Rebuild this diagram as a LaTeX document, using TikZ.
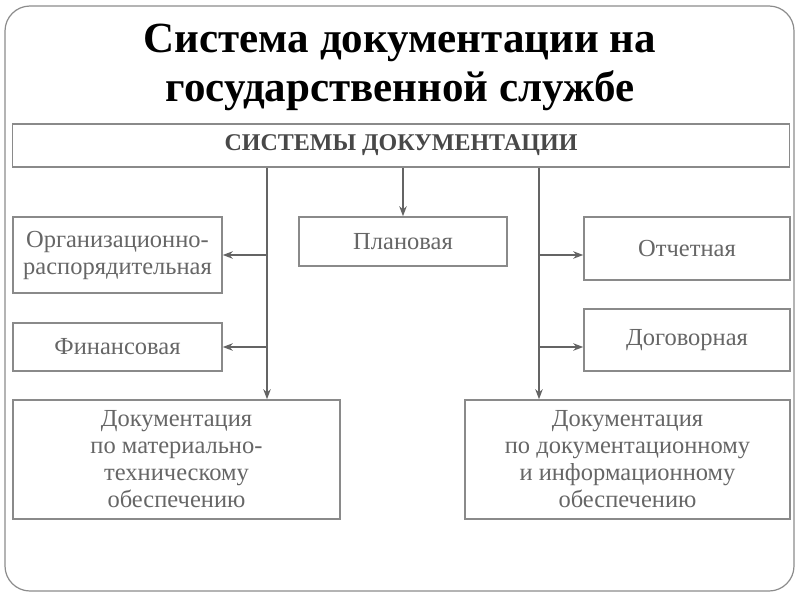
\documentclass[tikz,border=0pt]{standalone}
\usepackage{fontspec}
\setmainfont{Liberation Serif}
\usetikzlibrary{arrows.meta}
\definecolor{boxgray}{HTML}{8A8A8A}
\definecolor{txtgray}{HTML}{666666}
\definecolor{hdrgray}{HTML}{484848}
\definecolor{linegray}{HTML}{646464}
\definecolor{framegray}{HTML}{8C8C8C}
\begin{document}
\begin{tikzpicture}[x=1pt,y=-1pt,
  box/.style={draw=boxgray, line width=1.6pt, inner sep=0pt, text=txtgray,
    font=\fontsize{24.5}{27}\selectfont, align=center},
  conn/.style={draw=linegray, line width=1.4pt, -{Stealth[length=10pt,width=7.5pt]}}]
\fill[white] (0,0) rectangle (800,600);
\useasboundingbox (0,0) rectangle (800,600);
% slide frame
\draw[framegray, line width=1.2pt, rounded corners=25pt] (5,6) rectangle (794,591);
% title
\node[font=\fontsize{43}{49}\selectfont\bfseries, align=center, text=black] (title) at (400,67)
  {Система документации на\\государственной службе};
% boxes
\node[box, minimum width=777pt, minimum height=43pt, text=hdrgray,
  font=\fontsize{24}{27}\selectfont\bfseries] (hdr) at (401,145.5) {СИСТЕМЫ ДОКУМЕНТАЦИИ};
\node[box, minimum width=209pt, minimum height=76pt] (org) at (117.5,255) {Организационно-\\распорядительная};
\node[box, minimum width=208pt, minimum height=49pt] (plan) at (403,241.5) {Плановая};
\node[box, minimum width=206pt, minimum height=63pt] (otch) at (687,248.5) {Отчетная};
\node[box, minimum width=209pt, minimum height=48pt] (fin) at (117.5,347) {Финансовая};
\node[box, minimum width=206pt, minimum height=62pt] (dog) at (687,340) {Договорная};
\node[box, minimum width=327pt, minimum height=119pt] (bl) at (176.5,459.5)
  {Документация\\по материально-\\техническому\\обеспечению};
\node[box, minimum width=325pt, minimum height=119pt] (br) at (627.5,459.5)
  {Документация\\по документационному\\и информационному\\обеспечению};
% trunks
\coordinate (lt) at (267,0);
\coordinate (rt) at (539,0);
\draw[conn] (hdr.south -| lt) -- (bl.north -| lt);
\draw[conn] (lt |- org.east) -- (org.east);
\draw[conn] (lt |- fin.east) -- (fin.east);
\draw[conn] (hdr.south -| plan.north) -- (plan.north);
\draw[conn] (hdr.south -| rt) -- (br.north -| rt);
\draw[conn] (rt |- org.east) -- (otch.west |- org.east);
\draw[conn] (rt |- fin.east) -- (dog.west |- fin.east);
\end{tikzpicture}
\end{document}
